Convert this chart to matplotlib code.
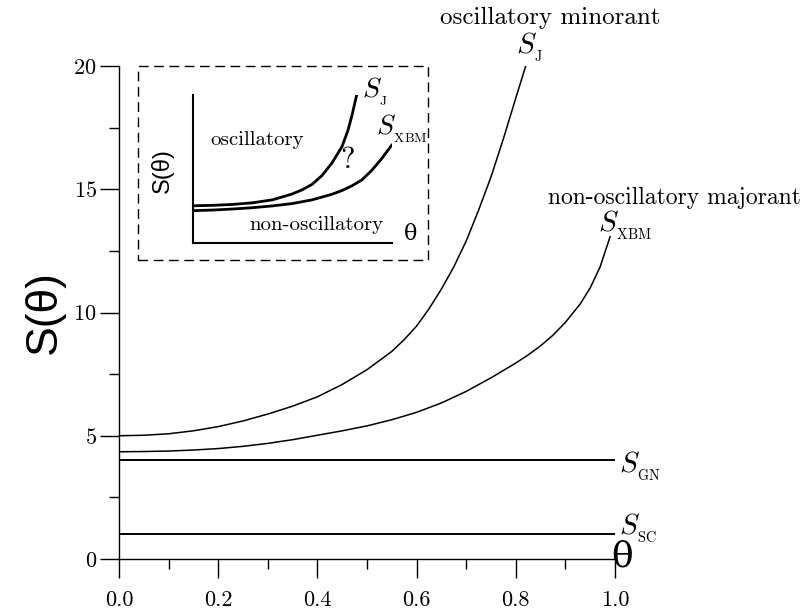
import numpy as np
import matplotlib
matplotlib.use('Agg')
import matplotlib.pyplot as plt
from matplotlib.patches import Rectangle
from matplotlib.ticker import MultipleLocator

plt.rcParams['font.family'] = ['cmr10', 'DejaVu Serif']
plt.rcParams['mathtext.fontset'] = 'cm'
plt.rcParams['axes.formatter.use_mathtext'] = True

# main curves
theta_j = [0.0, 0.05, 0.10, 0.15, 0.20, 0.25, 0.30, 0.35, 0.40, 0.45, 0.50, 0.55,
           0.575, 0.60, 0.625, 0.65, 0.675, 0.70, 0.725, 0.75, 0.775, 0.80, 0.82]
s_j = [5.00, 5.02, 5.08, 5.20, 5.37, 5.60, 5.88, 6.20, 6.58, 7.08, 7.68, 8.42,
       8.90, 9.45, 10.15, 10.95, 11.85, 12.90, 14.15, 15.50, 17.05, 18.70, 20.0]

theta_xbm = [0.0, 0.05, 0.10, 0.15, 0.20, 0.25, 0.30, 0.35, 0.40, 0.45, 0.50, 0.55,
             0.60, 0.65, 0.70, 0.75, 0.80, 0.825, 0.85, 0.875, 0.90, 0.93, 0.95, 0.97, 0.99]
s_xbm = [4.35, 4.36, 4.38, 4.42, 4.48, 4.57, 4.69, 4.84, 5.02, 5.20, 5.40, 5.65,
         5.95, 6.33, 6.80, 7.35, 7.95, 8.28, 8.65, 9.08, 9.60, 10.35, 11.0, 11.85, 13.07]

theta_flat = [0.0, 1.0]
s_gn = [4.0, 4.0]
s_sc = [1.0, 1.0]

x_ticks = [0.0, 0.2, 0.4, 0.6, 0.8, 1.0]
y_ticks = [0, 5, 10, 15, 20]

# sketch in the inset (its own 0..1 units)
ins_x_j = [0.0, 0.1, 0.2, 0.3, 0.4, 0.5, 0.55, 0.6, 0.65, 0.7, 0.75, 0.78, 0.80, 0.824]
ins_y_j = [0.25, 0.253, 0.259, 0.27, 0.29, 0.33, 0.358, 0.395, 0.455, 0.54, 0.65, 0.76, 0.86, 1.0]
ins_x_xbm = [0.0, 0.1, 0.2, 0.3, 0.4, 0.5, 0.6, 0.7, 0.75, 0.8, 0.85, 0.9, 0.95, 1.0]
ins_y_xbm = [0.217, 0.221, 0.228, 0.237, 0.249, 0.265, 0.29, 0.328, 0.353, 0.385, 0.425, 0.49, 0.57, 0.66]


def slabel(axis, x, y, sub, size):
    # italic S with a small upright subscript (second-level script size)
    axis.text(x, y, r'$S_{{}_{\mathrm{%s}}}$' % sub, fontsize=size, ha='left', va='baseline',
              clip_on=False)


fig = plt.figure(figsize=(8.0, 6.11), dpi=100)
ax = fig.add_axes([119/800, 52/611, 496/800, 493/611])

ax.plot(theta_j, s_j, color='k', lw=1.1)
ax.plot(theta_xbm, s_xbm, color='k', lw=1.1)
ax.plot(theta_flat, s_gn, color='k', lw=1.4)
ax.plot(theta_flat, s_sc, color='k', lw=1.4)

ax.set_xlim(0, 1.0)
ax.set_ylim(0, 20)
ax.set_xticks(x_ticks)
ax.set_xticklabels(['%.1f' % v for v in x_ticks])
ax.set_yticks(y_ticks)
ax.xaxis.set_minor_locator(MultipleLocator(0.1))
ax.yaxis.set_minor_locator(MultipleLocator(2.5))
ax.tick_params(which='major', direction='out', length=14, width=1, labelsize=16)
ax.tick_params(axis='x', which='major', pad=9)
ax.tick_params(axis='y', which='major', pad=2)
ax.tick_params(which='minor', direction='out', length=7, width=1)
for s in ['top', 'right']:
    ax.spines[s].set_visible(False)
for s in ['left', 'bottom']:
    ax.spines[s].set_linewidth(1.0)

ax.set_ylabel('S(θ)', family='Liberation Sans', fontsize=32, labelpad=6)

ax.text(0.87, 21.7, 'oscillatory minorant', ha='center', va='baseline', fontsize=18, clip_on=False)
ax.text(1.12, 14.4, 'non-oscillatory majorant', ha='center', va='baseline', fontsize=17, clip_on=False)
slabel(ax, 0.80, 20.55, 'J', 21)
slabel(ax, 0.965, 13.3, 'XBM', 21)
slabel(ax, 1.008, 3.55, 'GN', 21)
slabel(ax, 1.008, 1.05, 'SC', 21)
ax.text(1.014, 0.12, 'θ', family='DejaVu Serif', ha='center', va='center', fontsize=26, clip_on=False)

# dashed frame of the inset
fig.patches.append(Rectangle((138/800, 1 - 260/611), 290/800, 194/611, transform=fig.transFigure,
                             fill=False, ls=(0, (7, 4)), lw=1.0, ec='k'))

ins = fig.add_axes([192.7/800, 1 - 242.7/611, 199/800, 147.7/611])
ins.plot(ins_x_j, ins_y_j, color='k', lw=2.0)
ins.plot(ins_x_xbm, ins_y_xbm, color='k', lw=2.0)
ins.set_xlim(0, 1)
ins.set_ylim(0, 1)
ins.set_xticks([])
ins.set_yticks([])
ins.patch.set_alpha(0)
for s in ['top', 'right']:
    ins.spines[s].set_visible(False)
for s in ['left', 'bottom']:
    ins.spines[s].set_linewidth(1.5)

ins.text(0.323, 0.695, 'oscillatory', ha='center', va='center', fontsize=15, clip_on=False)
ins.text(0.622, 0.12, 'non-oscillatory', ha='center', va='center', fontsize=15, clip_on=False)
ins.text(0.78, 0.56, '?', ha='center', va='center', fontsize=22, clip_on=False)
ins.text(1.097, 0.06, 'θ', family='DejaVu Serif', ha='center', va='center', fontsize=16, clip_on=False)
slabel(ins, 0.85, 0.985, 'J', 20)
slabel(ins, 0.92, 0.73, 'XBM', 20)
ins.text(-0.15, 0.49, 'S(θ)', family='Liberation Sans', rotation=90, ha='center', va='center',
         fontsize=17, clip_on=False)

fig.savefig('out.png', dpi=100)
